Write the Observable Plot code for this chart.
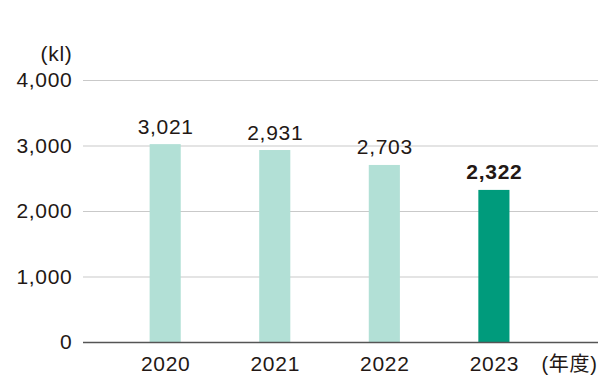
<!DOCTYPE html>
<html>
<head>
<meta charset="utf-8">
<script src="https://cdn.jsdelivr.net/npm/d3@7"></script>
<script src="https://cdn.jsdelivr.net/npm/@observablehq/plot@0.6"></script>
<style>
  html, body { margin: 0; padding: 0; background: #fff; }
  #chart svg { display: block; }
  #chart svg text { letter-spacing: 0.7px; }
</style>
</head>
<body>
<div id="chart"></div>
<script>
const years = [2020, 2021, 2022, 2023];
const values = [3021, 2931, 2703, 2322];
const yTicks = [0, 1000, 2000, 3000, 4000];
const unitLabel = "(kl)";
const xUnitLabel = "(年度)";
const highlightYear = 2023;

const data = years.map((y, i) => ({year: y, value: values[i], hi: y === highlightYear}));
const normalData = data.filter(d => !d.hi);
const hiData = data.filter(d => d.hi);
const fmt = d3.format(",");
const halfW = 0.142;
const font = "'Liberation Sans', Arial, 'Noto Sans CJK JP', sans-serif";
const ink = "#231815";

const chart = Plot.plot({
  width: 600,
  height: 378,
  marginTop: 80,
  marginBottom: 36,
  marginLeft: 83,
  marginRight: 2,
  style: {fontFamily: font, fontSize: "21px", color: ink, background: "#fff"},
  x: {domain: [2019.25, 2023.95], axis: null},
  y: {domain: [0, 4000], axis: null},
  marks: [
    Plot.gridY(yTicks, {stroke: "#c9c9c9", strokeOpacity: 1, strokeWidth: 1.2}),
    Plot.rectY(data, {
      x1: d => d.year - halfW,
      x2: d => d.year + halfW,
      y: "value",
      fill: d => d.hi ? "#009b7c" : "#b2e0d6"
    }),
    Plot.ruleY([0], {stroke: "#555", strokeWidth: 1.6}),
    Plot.axisY(yTicks, {tickSize: 0, tickPadding: 11, tickFormat: fmt, fontSize: 21, fill: ink, label: null}),
    Plot.axisX(years, {tickSize: 0, tickPadding: 14, tickFormat: d => String(d), fontSize: 21, fill: ink, label: null}),
    Plot.text(normalData, {
      x: "year", y: "value", text: d => fmt(d.value),
      dy: -11, lineAnchor: "bottom", fontSize: 21, fill: ink
    }),
    Plot.text(hiData, {
      x: "year", y: "value", text: d => fmt(d.value),
      dy: -11, lineAnchor: "bottom", fontSize: 21, fontWeight: "bold", fill: ink
    }),
    Plot.text([unitLabel], {frameAnchor: "top-left", dx: -11, dy: -20, textAnchor: "end", lineAnchor: "bottom", fontSize: 21, fill: ink}),
    Plot.text([xUnitLabel], {frameAnchor: "bottom-right", dx: -1, dy: 14, textAnchor: "end", lineAnchor: "top", fontSize: 20, fill: ink})
  ]
});
document.getElementById("chart").appendChild(chart);
</script>
</body>
</html>
